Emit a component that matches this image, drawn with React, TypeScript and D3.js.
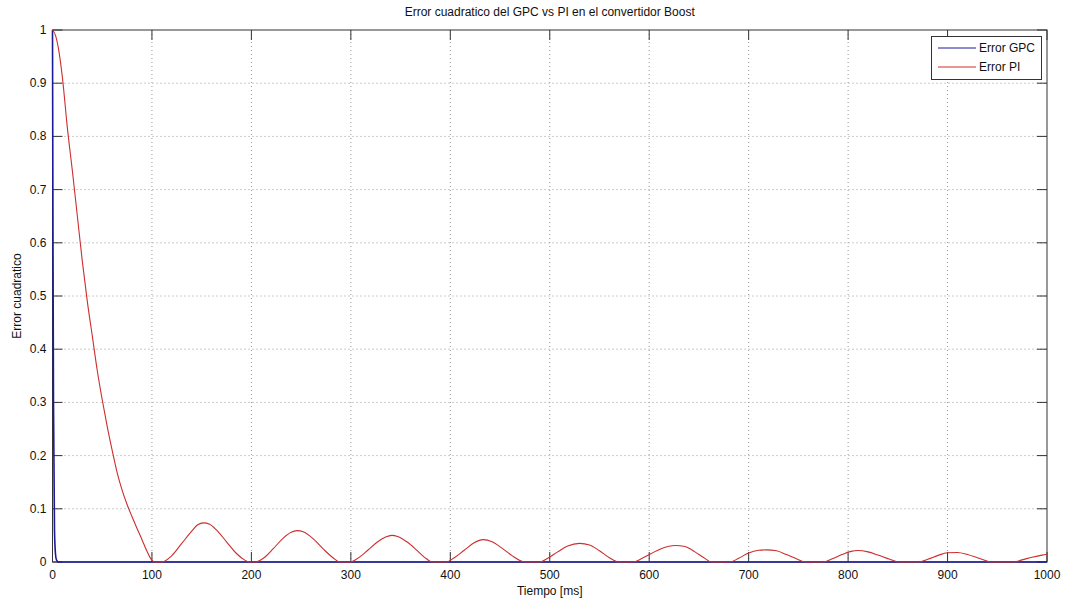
import React from "react";
import * as d3 from "d3";

// Error PI
const piTime = [
  0, 3, 6, 10, 15, 20, 25, 30, 35, 40, 45, 50, 55, 60, 65, 70, 75, 80, 85, 90, 95, 100, 103, 110,
  120, 130, 140, 146, 152, 158, 165, 175, 185, 193, 198, 204,
  212, 222, 232, 240, 246, 252, 262, 272, 282, 289, 299,
  307, 317, 327, 335, 341, 347, 357, 367, 376, 382, 396,
  404, 414, 424, 433, 442, 452, 462, 470, 476, 490,
  498, 508, 518, 530, 540, 550, 560, 569, 584,
  592, 602, 612, 626, 636, 646, 655, 663, 681,
  690, 700, 710, 718, 728, 738, 748, 757, 775,
  784, 794, 803, 810, 820, 830, 842, 851, 871,
  880, 890, 900, 910, 920, 930, 938, 943, 966,
  975, 985, 995, 1000,
];
const piError = [
  1.0, 0.99, 0.965, 0.91, 0.815, 0.735, 0.65, 0.565, 0.49, 0.425, 0.36, 0.305, 0.255, 0.21, 0.168, 0.135, 0.108, 0.085, 0.063, 0.042, 0.02, 0.003, 0, 0,
  0.012, 0.035, 0.058, 0.07, 0.0735, 0.071, 0.06, 0.038, 0.016, 0.004, 0, 0,
  0.007, 0.025, 0.045, 0.056, 0.059, 0.057, 0.044, 0.025, 0.008, 0, 0,
  0.007, 0.022, 0.038, 0.047, 0.05, 0.048, 0.037, 0.021, 0.006, 0, 0,
  0.008, 0.022, 0.036, 0.042, 0.038, 0.026, 0.012, 0.003, 0, 0,
  0.007, 0.019, 0.03, 0.035, 0.032, 0.021, 0.008, 0, 0,
  0.006, 0.016, 0.025, 0.031, 0.029, 0.019, 0.008, 0, 0,
  0.007, 0.017, 0.022, 0.0228, 0.021, 0.014, 0.006, 0, 0,
  0.006, 0.014, 0.02, 0.0215, 0.019, 0.013, 0.005, 0, 0,
  0.005, 0.012, 0.0175, 0.0178, 0.014, 0.008, 0.003, 0, 0,
  0.004, 0.009, 0.013, 0.0145,
];

// Error GPC
const gpcTime = [0, 0.5, 1, 2, 3, 4, 6, 1000];
const gpcError = [1, 0.6, 0.3, 0.06, 0.015, 0.004, 0, 0];

const xTicks = [0, 100, 200, 300, 400, 500, 600, 700, 800, 900, 1000];
const yTicks = [0, 0.1, 0.2, 0.3, 0.4, 0.5, 0.6, 0.7, 0.8, 0.9, 1];

const W = 1071;
const H = 605;
const FONT = "'Liberation Sans', Arial, sans-serif";

export default function App() {
  const x = d3.scaleLinear().domain([0, 1000]).range([52.5, 1047]);
  const y = d3.scaleLinear().domain([0, 1]).range([562, 30]);

  const line = d3
    .line<[number, number]>()
    .x((d) => x(d[0]))
    .y((d) => y(d[1]))
    .curve(d3.curveMonotoneX);

  const piPts = piTime.map((t, i) => [t, piError[i]] as [number, number]);
  const gpcPts = gpcTime.map((t, i) => [t, gpcError[i]] as [number, number]);

  const x0 = x(0), x1 = x(1000), y0 = y(0), y1 = y(1);
  const tickLen = 10;
  const axisColor = "#333";

  return (
    <div style={{ position: "fixed", left: 0, top: 0 }}>
      <svg width={W} height={H} style={{ display: "block", background: "#fff" }}>
        {/* grid */}
        <g stroke="#999" strokeDasharray="1,3" strokeWidth={1}>
          {xTicks.slice(1, -1).map((t) => (
            <line key={"gx" + t} x1={x(t)} x2={x(t)} y1={y1} y2={y0} />
          ))}
          {yTicks.slice(1, -1).map((t) => (
            <line key={"gy" + t} x1={x0} x2={x1} y1={y(t)} y2={y(t)} />
          ))}
        </g>

        {/* ticks, inside and mirrored */}
        <g stroke={axisColor} strokeWidth={1}>
          {xTicks.map((t) => (
            <g key={"tx" + t}>
              <line x1={x(t)} x2={x(t)} y1={y0} y2={y0 - tickLen} />
              <line x1={x(t)} x2={x(t)} y1={y1} y2={y1 + tickLen} />
            </g>
          ))}
          {yTicks.map((t) => (
            <g key={"ty" + t}>
              <line x1={x0} x2={x0 + tickLen} y1={y(t)} y2={y(t)} />
              <line x1={x1} x2={x1 - tickLen} y1={y(t)} y2={y(t)} />
            </g>
          ))}
        </g>

        {/* box */}
        <rect x={x0} y={y1} width={x1 - x0} height={y0 - y1} fill="none" stroke={axisColor} strokeWidth={1} />

        {/* series */}
        <path d={line(gpcPts) ?? ""} fill="none" stroke="#1a1a9a" strokeWidth={1.6} />
        <path d={line(piPts) ?? ""} fill="none" stroke="#cc2e2e" strokeWidth={1.1} />

        {/* tick labels */}
        <g fontFamily={FONT} fontSize={12} fill="#111">
          {xTicks.map((t) => (
            <text key={"lx" + t} x={x(t)} y={579} textAnchor="middle">
              {t}
            </text>
          ))}
          {yTicks.map((t) => (
            <text key={"ly" + t} x={x0 - 6} y={y(t) + 4} textAnchor="end">
              {t}
            </text>
          ))}
        </g>

        {/* titles */}
        <text x={(x0 + x1) / 2} y={16} textAnchor="middle" fontFamily={FONT} fontSize={12} fill="#111">
          Error cuadratico del GPC vs PI en el convertidor Boost
        </text>
        <text x={(x0 + x1) / 2} y={595} textAnchor="middle" fontFamily={FONT} fontSize={12} fill="#111">
          Tiempo [ms]
        </text>
        <text
          transform={`translate(21,${(y0 + y1) / 2}) rotate(-90)`}
          textAnchor="middle"
          fontFamily={FONT}
          fontSize={12}
          fill="#111"
        >
          Error cuadratico
        </text>

        {/* legend */}
        <g>
          <rect x={931.5} y={36.5} width={110} height={43} fill="#fff" stroke={axisColor} strokeWidth={1} />
          <line x1={938} x2={976} y1={48} y2={48} stroke="#1a1a9a" strokeWidth={1} />
          <line x1={938} x2={976} y1={67} y2={67} stroke="#cc2e2e" strokeWidth={1} />
          <text x={979} y={52} fontFamily={FONT} fontSize={12} fill="#111">
            Error GPC
          </text>
          <text x={979} y={71} fontFamily={FONT} fontSize={12} fill="#111">
            Error PI
          </text>
        </g>
      </svg>
    </div>
  );
}
